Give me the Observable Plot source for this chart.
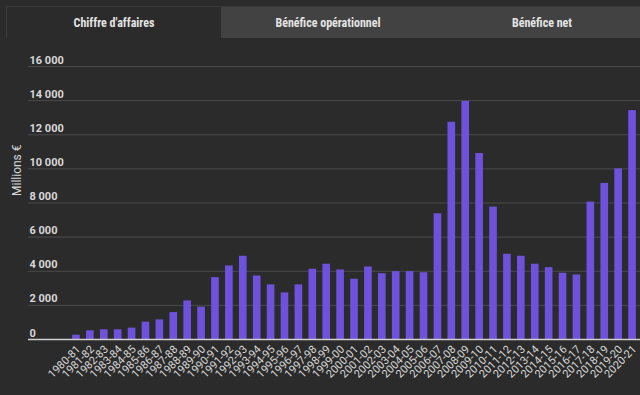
<!DOCTYPE html>
<html>
<head>
<meta charset="utf-8">
<script src="https://cdn.jsdelivr.net/npm/d3@7"></script>
<script src="https://cdn.jsdelivr.net/npm/@observablehq/plot@0.6"></script>
<style>
  html, body { margin: 0; padding: 0; background: #2b2b2b; width: 640px; height: 395px; overflow: hidden; }
  #tabs { position: absolute; top: 6px; left: 6px; right: 0; height: 31px; background: #424242; display: flex; border-top: 1px solid #3a3a3a; }
  .tab { width: 214px; flex: none; display: flex; align-items: center; justify-content: center;
         font-family: "Roboto Condensed", "Liberation Sans Narrow", "DejaVu Sans Condensed", Roboto, sans-serif;
         font-stretch: condensed; font-weight: bold; font-size: 12px; color: #e4e4e4; }
  .tab.active { background: #2b2b2b; border-left: 1px solid #3c3c3c; }
  #chart { position: absolute; top: 40px; left: 0; }
</style>
</head>
<body>
<div id="tabs">
  <div class="tab active">Chiffre d'affaires</div>
  <div class="tab">Bénéfice opérationnel</div>
  <div class="tab">Bénéfice net</div>
</div>
<div id="chart"></div>
<script>
const years = ["1980-81","1981-82","1982-83","1983-84","1984-85","1985-86","1986-87","1987-88","1988-89","1989-90",
  "1990-91","1991-92","1992-93","1993-94","1994-95","1995-96","1996-97","1997-98","1998-99","1999-00",
  "2000-01","2001-02","2002-03","2003-04","2004-05","2005-06","2006-07","2007-08","2008-09","2009-10",
  "2010-11","2011-12","2012-13","2013-14","2014-15","2015-16","2016-17","2017-18","2018-19","2019-20","2020-21"];
const revenue = [250, 510, 570, 570, 665, 1015, 1150, 1580, 2260, 1895,
  3626, 4310, 4877, 3725, 3200, 2730, 3200, 4117, 4409, 4076,
  3532, 4251, 3860, 3977, 3977, 3918, 7368, 12731, 13959, 10900,
  7760, 4994, 4877, 4409, 4211, 3883, 3784, 8053, 9146, 10000, 13415];
const yTicks = [0, 2000, 4000, 6000, 8000, 10000, 12000, 14000, 16000];
const yLabel = "Millions €";

const data = years.map((y, i) => ({year: y, value: revenue[i]}));
const fmt = d3.formatLocale({decimal: ",", thousands: " ", grouping: [3], currency: ["", " €"]}).format(",d");

const chart = Plot.plot({
  width: 640,
  height: 355,
  marginTop: 26,
  marginBottom: 56,
  marginLeft: 28,
  marginRight: 0,
  style: {background: "transparent", fontFamily: "Roboto, sans-serif", color: "#dcdcdc"},
  x: {type: "band", domain: years, range: [69, 639], paddingInner: 0.45, paddingOuter: 0.225},
  y: {domain: [0, 16000]},
  marks: [
    Plot.ruleY(yTicks.filter(d => d > 0), {stroke: "#4b4b4b", strokeWidth: 1}),
    Plot.barY(data, {x: "year", y: "value", fill: "#6e51dd"}),
    Plot.ruleY([0], {stroke: "#cfcfcf", strokeWidth: 1.5}),
    Plot.axisY({ticks: yTicks, tickSize: 0, tickPadding: 0, textAnchor: "start", dx: 1, dy: -6.5,
      tickFormat: fmt, fontSize: 11, fontWeight: "bold", fill: "#d8d8d8", label: null}),
    Plot.axisX({tickRotate: -45, tickSize: 0, tickPadding: 8, dx: 2, fontSize: 11, fill: "#d8d8d8", label: null}),
    Plot.text([yLabel], {frameAnchor: "left", rotate: -90, dx: -11, dy: -7, fontSize: 12, fill: "#d8d8d8"})
  ]
});
document.getElementById("chart").appendChild(chart);
</script>
</body>
</html>
